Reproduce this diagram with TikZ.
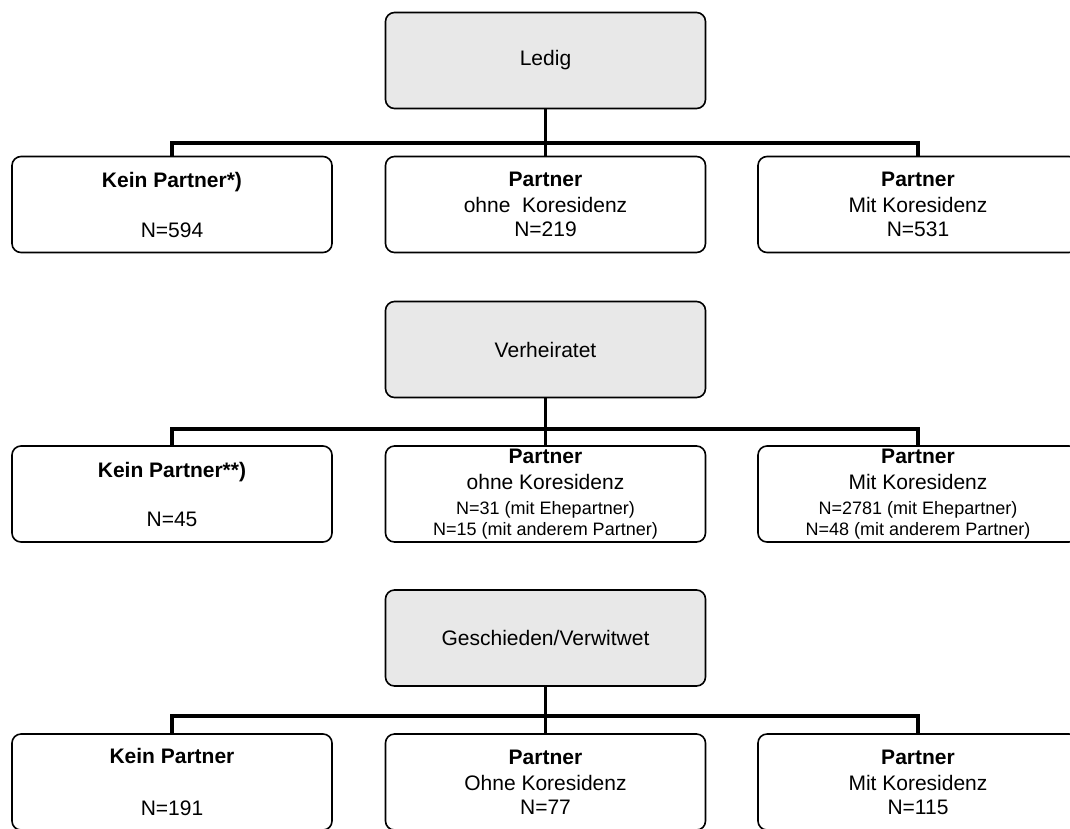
\documentclass[tikz,border=0pt]{standalone}
\usepackage{fontspec}
\setmainfont{Liberation Sans}
\usepackage{tikz}
\definecolor{statusgray}{RGB}{232,232,232}
\tikzstyle{status} = [rectangle, rounded corners=9pt, minimum width=320pt, minimum height=96pt, text centered, draw=black, line width=1.6pt, fill=statusgray, font=\fontsize{21}{25}\selectfont]
\tikzstyle{partner} = [rectangle, rounded corners=9pt, minimum width=320pt, minimum height=96pt, align=center, inner sep=1pt, draw=black, line width=1.6pt, fill=white, font=\fontsize{21}{25}\selectfont]
\tikzstyle{bus} = [line width=3.6pt, line join=miter]
\newcommand{\klein}{\fontsize{18}{20}\selectfont}

\begin{document}
\begin{tikzpicture}[x=1pt, y=1pt, node distance=144pt]
\clip (0,0) rectangle (1070,-828);

% Ledig
\node (ledig) [status] at (545.5,-60.5) {Ledig};
\node (ohne1) [partner, below of=ledig] {\textbf{Partner}\\[1pt] ohne\ \ Koresidenz\\[-1pt] N=219};
\node (kein1) [partner, left of=ohne1, xshift=-229.5pt] {\textbf{Kein Partner*)}\\[25pt] N=594};
\node (mit1) [partner, right of=ohne1, xshift=228.5pt] {\textbf{Partner}\\[1pt] Mit Koresidenz\\[-1pt] N=531};

\draw [bus] (ledig) -- (ohne1);
\draw [bus] (kein1.north) -- ++(0,13) -| (mit1.north);

% Verheiratet
\node (verheiratet) [status, below of=ohne1, yshift=-1pt] {Verheiratet};
\node (ohne2) [partner, below of=verheiratet, yshift=-0.5pt] {\textbf{Partner}\\[1pt] ohne Koresidenz\\[0pt] {\klein N=31 (mit Ehepartner)}\\[-4pt] {\klein N=15 (mit anderem Partner)}};
\node (kein2) [partner, left of=ohne2, xshift=-229.5pt] {\textbf{Kein Partner**)}\\[24pt] N=45};
\node (mit2) [partner, right of=ohne2, xshift=228.5pt] {\textbf{Partner}\\[1pt] Mit Koresidenz\\[0pt] {\klein N=2781 (mit Ehepartner)}\\[-4pt] {\klein N=48 (mit anderem Partner)}};

\draw [bus] (verheiratet) -- (ohne2);
\draw [bus] (kein2.north) -- ++(0,16) -| (mit2.north);

% Geschieden/Verwitwet
\node (geschieden) [status, below of=ohne2] {Geschieden/Verwitwet};
\node (ohne3) [partner, below of=geschieden] {\textbf{Partner}\\[1pt] Ohne Koresidenz\\[-1pt] N=77};
\node (kein3) [partner, left of=ohne3, xshift=-229.5pt] {\textbf{Kein Partner}\\[27pt] N=191};
\node (mit3) [partner, right of=ohne3, xshift=228.5pt] {\textbf{Partner}\\[1pt] Mit Koresidenz\\[-1pt] N=115};

\draw [bus] (geschieden) -- (ohne3);
\draw [bus] (kein3.north) -- ++(0,17) -| (mit3.north);

\end{tikzpicture}
\end{document}
